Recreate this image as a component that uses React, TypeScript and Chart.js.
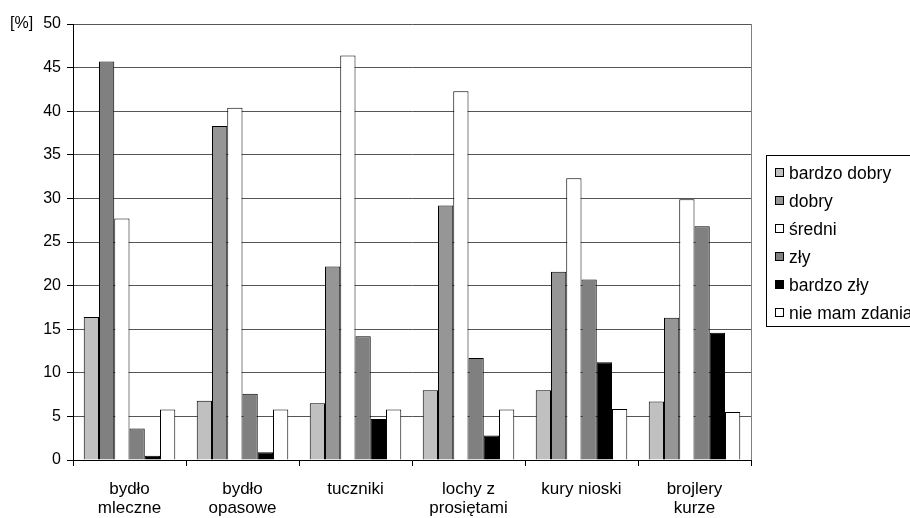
import React, { useEffect, useRef } from "react";
import { Chart, registerables } from "chart.js";

Chart.register(...registerables);

const categories: string[][] = [
  ["bydło", "mleczne"],
  ["bydło", "opasowe"],
  ["tuczniki"],
  ["lochy z", "prosiętami"],
  ["kury nioski"],
  ["brojlery", "kurze"],
];

const seriesNames = ["bardzo dobry", "dobry", "średni", "zły", "bardzo zły", "nie mam zdania"];

const bardzoDobry = [16.4, 6.8, 6.5, 8.0, 8.0, 6.7];
const dobry = [45.7, 38.3, 22.2, 29.2, 21.6, 16.3];
const sredni = [27.7, 40.4, 46.4, 42.3, 32.3, 29.9];
const zly = [3.6, 7.6, 14.2, 11.7, 20.7, 26.8];
const bardzoZly = [0.5, 0.9, 4.7, 2.8, 11.2, 14.6];
const nieMamZdania = [5.8, 5.8, 5.8, 5.8, 5.85, 5.5];

const yTicks = [0, 5, 10, 15, 20, 25, 30, 35, 40, 45, 50];

const FONT = "'Liberation Sans', Arial, sans-serif";

export default function App() {
  const ref = useRef<HTMLCanvasElement | null>(null);

  useEffect(() => {
    document.body.style.margin = "0";
    const canvas = ref.current;
    if (!canvas) return;

    const legendColors = ["#C0C0C0", "#969696", "#FFFFFF", "#808080", "#000000", "#FFFFFF"];

    const overlay = {
      id: "overlay",
      afterDraw(chart: any) {
        const ctx = chart.ctx as CanvasRenderingContext2D;
        const area = chart.chartArea;
        ctx.save();
        // right border of plot area
        ctx.strokeStyle = "#808080";
        ctx.lineWidth = 1;
        ctx.beginPath();
        ctx.moveTo(Math.round(area.right) + 0.5, area.top);
        ctx.lineTo(Math.round(area.right) + 0.5, area.bottom);
        ctx.stroke();

        // unit label
        ctx.fillStyle = "#000";
        ctx.font = `16px ${FONT}`;
        ctx.textBaseline = "middle";
        ctx.textAlign = "left";
        ctx.fillText("[%]", 10, area.top);

        // legend
        const lx = 766.5;
        const ly = 155.5;
        const itemH = 28;
        const n = chart.data.datasets.length;
        const lh = 171;
        ctx.strokeStyle = "#000";
        ctx.lineWidth = 1;
        ctx.fillStyle = "#fff";
        ctx.fillRect(lx, ly, 200, lh);
        ctx.strokeRect(lx, ly, 200, lh);
        for (let i = 0; i < n; i++) {
          const cy = ly + 17.5 + i * itemH;
          ctx.fillStyle = legendColors[i];
          ctx.fillRect(775.5, Math.round(cy) - 4.5, 8, 8);
          ctx.strokeStyle = "#000";
          ctx.strokeRect(775.5, Math.round(cy) - 4.5, 8, 8);
          ctx.fillStyle = "#000";
          ctx.font = `17.5px ${FONT}`;
          ctx.textBaseline = "middle";
          ctx.fillText(chart.data.datasets[i].label, 789, cy + 1);
        }
        ctx.restore();
      },
    };

    const mk = (label: string, data: number[], color: string | string[]) => ({
      label,
      data,
      backgroundColor: color,
      borderColor: "#000",
      borderWidth: 1,
      barPercentage: 1,
      categoryPercentage: 0.81,
    });

    const chart = new Chart(canvas, {
      type: "bar",
      data: {
        labels: categories,
        datasets: [
          mk(seriesNames[0], bardzoDobry, "#C0C0C0"),
          mk(seriesNames[1], dobry, dobry.map((_, i) => (i === 0 ? "#808080" : "#969696"))),
          mk(seriesNames[2], sredni, "#FFFFFF"),
          mk(seriesNames[3], zly, "#808080"),
          mk(seriesNames[4], bardzoZly, "#000000"),
          mk(seriesNames[5], nieMamZdania, "#FFFFFF"),
        ],
      },
      options: {
        responsive: false,
        animation: false,
        devicePixelRatio: 1,
        layout: { padding: { left: 0, right: 159, top: 24, bottom: 0 } },
        plugins: {
          legend: { display: false },
          tooltip: { enabled: false },
        },
        scales: {
          x: {
            grid: {
              offset: true,
              drawOnChartArea: false,
              drawTicks: true,
              tickLength: 6,
              color: "#000",
            },
            border: { display: true, color: "#000", width: 1 },
            ticks: {
              color: "#000",
              font: { family: FONT, size: 17, lineHeight: 1.1 },
              padding: 14,
              maxRotation: 0,
              autoSkip: false,
            },
            afterFit(scale: any) {
              scale.height = 58;
            },
          },
          y: {
            min: 0,
            max: 50,
            afterBuildTicks(scale: any) {
              scale.ticks = yTicks.map((v) => ({ value: v }));
            },
            grid: {
              color: "#555555",
              lineWidth: 1,
              drawTicks: true,
              tickLength: 6,
              tickColor: "#000",
            },
            border: { display: true, color: "#000", width: 1 },
            ticks: {
              color: "#000",
              font: { family: FONT, size: 16 },
              padding: 6,
            },
            afterFit(scale: any) {
              scale.width = 73;
            },
          },
        },
      },
      plugins: [overlay],
    });

    return () => chart.destroy();
  }, []);

  return (
    <div style={{ position: "relative", width: 910, height: 518, overflow: "hidden", background: "#fff" }}>
      <canvas ref={ref} width={910} height={518} style={{ width: 910, height: 518, display: "block" }} />
    </div>
  );
}
